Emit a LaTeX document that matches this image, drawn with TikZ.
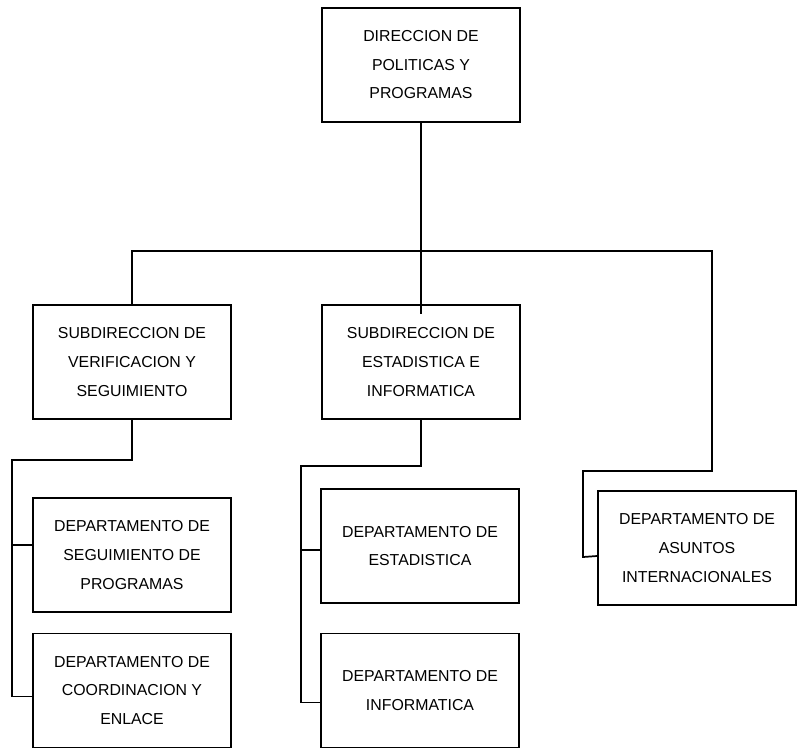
\documentclass[tikz,border=0pt]{standalone}
\usepackage{fontspec}
\setmainfont{Liberation Sans}
\usetikzlibrary{calc}
\tikzset{
  caja/.style={draw=black, line width=1.3pt, align=center, inner sep=0pt,
               minimum width=148.5pt, minimum height=85.5pt,
               font=\fontsize{11.9pt}{21.4pt}\selectfont},
  linea/.style={black, line width=1.3pt},
}

\begin{document}
\begin{tikzpicture}[x=0.75pt, y=-0.75pt]
  \useasboundingbox (0,0) rectangle (798,749);

  % nivel 1
  \node[caja] (direccion) at (421,65) {DIRECCION DE\\POLITICAS Y\\PROGRAMAS};
  % nivel 2
  \node[caja] (subverif) at (132,362) {SUBDIRECCION DE\\VERIFICACION Y\\SEGUIMIENTO};
  \node[caja] (subestad) at (421,362) {SUBDIRECCION DE\\ESTADISTICA E\\INFORMATICA};
  % departamentos
  \node[caja] (depseg)   at (132,555)   {DEPARTAMENTO DE\\SEGUIMIENTO DE\\PROGRAMAS};
  \node[caja] (depcoord) at (132,690.5) {DEPARTAMENTO DE\\COORDINACION Y\\ENLACE};
  \node[caja] (depestad) at (420,546)   {DEPARTAMENTO DE\\ESTADISTICA};
  \node[caja] (depinfo)  at (420,690.5) {DEPARTAMENTO DE\\INFORMATICA};
  \node[caja] (depasuntos) at (697,548) {DEPARTAMENTO DE\\ASUNTOS\\INTERNACIONALES};

  % codos de las lineas
  \coordinate (bus) at (421,251);
  \coordinate (cododer) at (712,471);
  \coordinate (codoasu) at (583,557);
  \coordinate (codoizq) at (12,460);
  \coordinate (codocen) at (301,466);
  \coordinate (ramaseg) at ($(depseg.west)+(0,-10)$);
  \coordinate (ramacoord) at ($(depcoord.west)+(0,6)$);
  \coordinate (ramaestad) at ($(depestad.west)+(0,4)$);
  \coordinate (ramainfo) at ($(depinfo.west)+(0,12)$);
  \coordinate (ramaasu) at ($(depasuntos.west)+(0,8)$);

  \draw[linea] (direccion.south) -- ($(subestad.north)+(0,10)$);
  \draw[linea] (subverif.north) |- (bus) -| (cododer) -| (codoasu) -- (ramaasu);
  \draw[linea] (subverif.south) |- (codoizq) |- (ramacoord);
  \draw[linea] (codoizq |- ramaseg) -- (ramaseg);
  \draw[linea] (subestad.south) |- (codocen) |- (ramainfo);
  \draw[linea] (codocen |- ramaestad) -- (ramaestad);
\end{tikzpicture}
\end{document}
